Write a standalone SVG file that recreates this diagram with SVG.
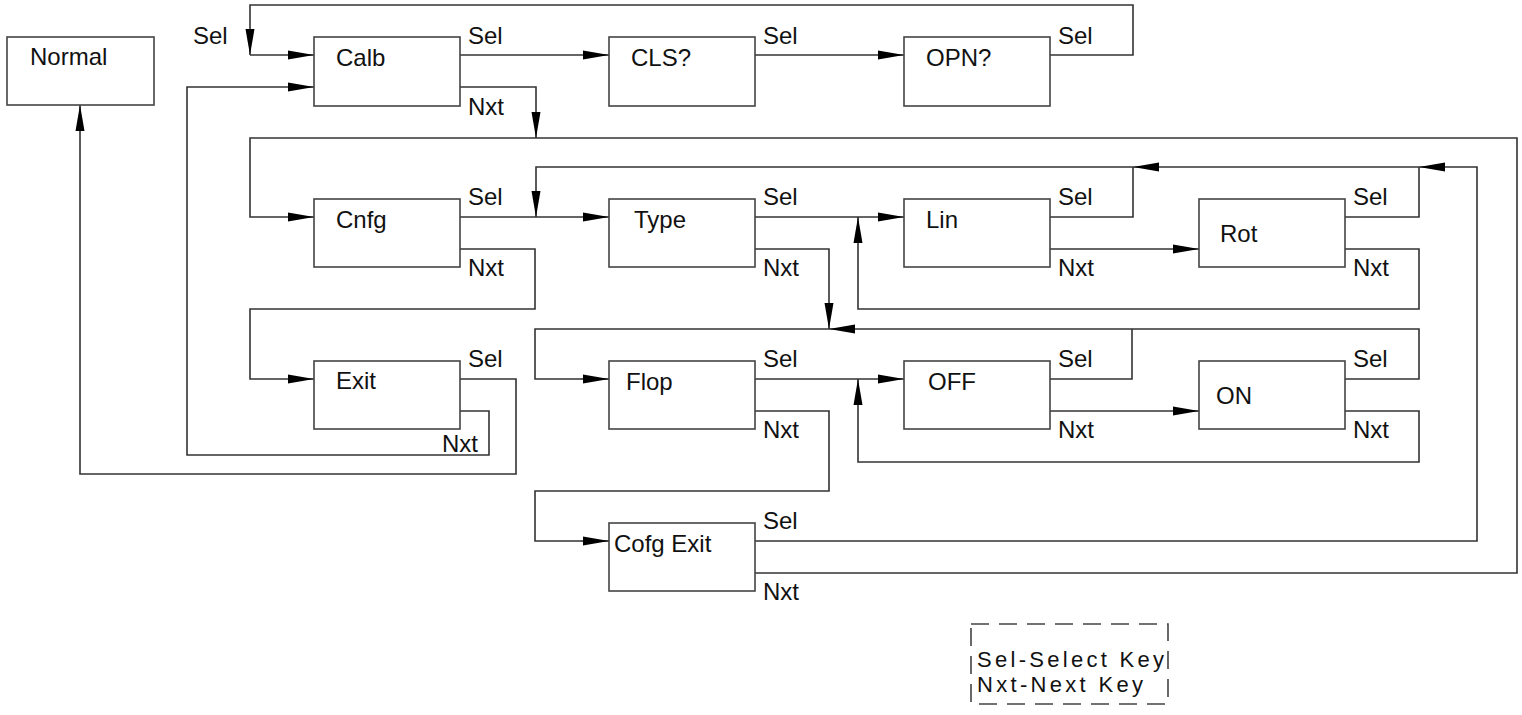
<svg xmlns="http://www.w3.org/2000/svg" width="1522" height="715" viewBox="0 0 1522 715">
<style>
.box{fill:#fff;stroke:#444;stroke-width:1.6}
.ln{fill:none;stroke:#333;stroke-width:1.6}
.t{font-family:"Liberation Sans",Arial,sans-serif;font-size:24px;fill:#111}
.lg{font-family:"Liberation Sans",Arial,sans-serif;font-size:22px;fill:#111}
.arr{fill:none;stroke:#333;stroke-width:1.6;marker-end:url(#ah)}
</style>
<defs>
<marker id="ah" markerUnits="userSpaceOnUse" markerWidth="27" markerHeight="10" refX="26" refY="4.5" orient="auto" overflow="visible">
<path d="M0,0 L26,4.5 L0,9 Z" fill="#000"/>
</marker>
</defs>
<rect width="1522" height="715" fill="#fff"/>
<g id="connectors">
<path class="ln" d="M1050,55 H1133 V5 H250 V30"/>
<path class="arr" d="M250,30 V55"/>
<path class="arr" d="M250,55 H314"/>
<path class="arr" d="M460,55 H609"/>
<path class="arr" d="M755,55 H904"/>
<path class="arr" d="M460,87 H536 V138"/>
<path class="ln" d="M755,573 H1517 V138 H250 V217 H280"/>
<path class="arr" d="M280,217 H314"/>
<path class="ln" d="M460,411 H489 V455 H187 V87 H280"/>
<path class="arr" d="M280,87 H314"/>
<path class="arr" d="M460,379 H516 V474 H80 V105"/>
<path class="arr" d="M460,217 H609"/>
<path class="ln" d="M460,249 H535 V309 H250 V379 H280"/>
<path class="arr" d="M280,379 H314"/>
<path class="arr" d="M755,541 H1477 V167 H1419"/>
<path class="arr" d="M1419,167 H1133"/>
<path class="arr" d="M1133,167 H536 V217"/>
<path class="ln" d="M1345,217 H1419 V167"/>
<path class="ln" d="M1050,217 H1133 V167"/>
<path class="arr" d="M755,217 H904"/>
<path class="arr" d="M1050,249 H1199"/>
<path class="arr" d="M1345,249 H1419 V309 H858 V217"/>
<path class="arr" d="M755,249 H829 V329"/>
<path class="arr" d="M1345,379 H1419 V329 H829"/>
<path class="ln" d="M1050,379 H1132 V329"/>
<path class="ln" d="M829,329 H535 V379 H580"/>
<path class="arr" d="M580,379 H609"/>
<path class="arr" d="M755,379 H904"/>
<path class="arr" d="M1050,411 H1199"/>
<path class="arr" d="M1345,411 H1419 V462 H858 V379"/>
<path class="ln" d="M755,411 H829 V491 H535 V541 H580"/>
<path class="arr" d="M580,541 H609"/>
</g>
<g id="node-normal"><rect class="box" x="7" y="37" width="147" height="68"/><text class="t" x="30" y="65">Normal</text></g>
<g id="node-calb"><rect class="box" x="314" y="37" width="146" height="69"/><text class="t" x="336" y="66">Calb</text></g>
<g id="node-cls"><rect class="box" x="609" y="37" width="146" height="69"/><text class="t" x="631" y="66">CLS?</text></g>
<g id="node-opn"><rect class="box" x="904" y="37" width="146" height="69"/><text class="t" x="926" y="66">OPN?</text></g>
<g id="node-cnfg"><rect class="box" x="314" y="199" width="146" height="68"/><text class="t" x="336" y="228">Cnfg</text></g>
<g id="node-type"><rect class="box" x="609" y="199" width="146" height="68"/><text class="t" x="634" y="228">Type</text></g>
<g id="node-lin"><rect class="box" x="904" y="199" width="146" height="68"/><text class="t" x="926" y="228">Lin</text></g>
<g id="node-rot"><rect class="box" x="1199" y="199" width="146" height="68"/><text class="t" x="1220" y="242">Rot</text></g>
<g id="node-exit"><rect class="box" x="314" y="361" width="146" height="68"/><text class="t" x="336" y="389">Exit</text></g>
<g id="node-flop"><rect class="box" x="609" y="361" width="146" height="68"/><text class="t" x="626" y="390">Flop</text></g>
<g id="node-off"><rect class="box" x="904" y="361" width="146" height="68"/><text class="t" x="928" y="390">OFF</text></g>
<g id="node-on"><rect class="box" x="1199" y="361" width="146" height="68"/><text class="t" x="1216" y="404">ON</text></g>
<g id="node-cofg-exit"><rect class="box" x="609" y="523" width="146" height="68"/><text class="t" x="614" y="552">Cofg Exit</text></g>
<g id="labels">
<text class="t" x="193" y="44">Sel</text>
<text class="t" x="468" y="44">Sel</text>
<text class="t" x="763" y="44">Sel</text>
<text class="t" x="1058" y="44">Sel</text>
<text class="t" x="468" y="115">Nxt</text>
<text class="t" x="468" y="205">Sel</text>
<text class="t" x="468" y="276">Nxt</text>
<text class="t" x="763" y="205">Sel</text>
<text class="t" x="763" y="276">Nxt</text>
<text class="t" x="1058" y="205">Sel</text>
<text class="t" x="1058" y="276">Nxt</text>
<text class="t" x="1353" y="205">Sel</text>
<text class="t" x="1353" y="276">Nxt</text>
<text class="t" x="468" y="367">Sel</text>
<text class="t" x="442" y="452">Nxt</text>
<text class="t" x="763" y="367">Sel</text>
<text class="t" x="763" y="438">Nxt</text>
<text class="t" x="1058" y="367">Sel</text>
<text class="t" x="1058" y="438">Nxt</text>
<text class="t" x="1353" y="367">Sel</text>
<text class="t" x="1353" y="438">Nxt</text>
<text class="t" x="763" y="529">Sel</text>
<text class="t" x="763" y="600">Nxt</text>
</g>
<g id="legend">
<rect x="971" y="624" width="197" height="80" fill="none" stroke="#444" stroke-width="1.6" stroke-dasharray="18 10"/>
<text class="lg" x="977" y="667" textLength="187" lengthAdjust="spacing">Sel-Select Key</text>
<text class="lg" x="977" y="692" textLength="166" lengthAdjust="spacing">Nxt-Next Key</text>
</g>
</svg>
